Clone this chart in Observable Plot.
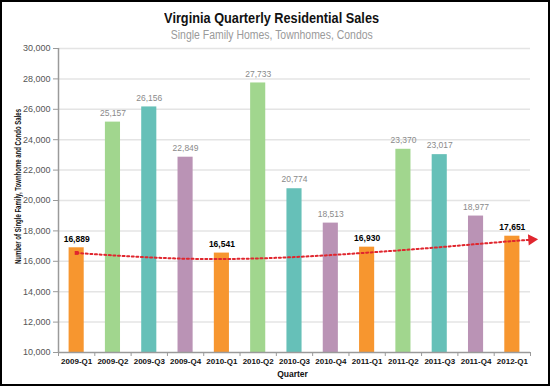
<!DOCTYPE html>
<html>
<head>
<meta charset="utf-8">
<script src="https://cdn.jsdelivr.net/npm/d3@7"></script>
<script src="https://cdn.jsdelivr.net/npm/@observablehq/plot@0.6"></script>
<style>
  html, body { margin: 0; padding: 0; background: #fff; }
  #frame { width: 550px; height: 386px; box-sizing: border-box; border: 2px solid #000; position: relative; overflow: hidden; }
  .hdr { position: absolute; left: 0; width: 540px; text-align: center; }
  .hdr span { display: inline-block; transform-origin: 50% 50%; white-space: nowrap; font-family: "Liberation Sans", Arial, sans-serif; }
  #title { top: 7px; }
  #title span { font-weight: bold; font-size: 15px; color: #111; line-height: 17px; }
  #subtitle { top: 23px; }
  #subtitle span { font-size: 12.5px; color: #9a9a9a; line-height: 15px; }
  #chart { position: absolute; left: 0; top: 40px; }
</style>
</head>
<body>
<div id="frame">
  <div id="title" class="hdr"><span data-w="215">Virginia Quarterly Residential Sales</span></div>
  <div id="subtitle" class="hdr"><span data-w="202">Single Family Homes, Townhomes, Condos</span></div>
  <div id="chart"></div>
</div>
<script>
const quarters = ["2009-Q1","2009-Q2","2009-Q3","2009-Q4","2010-Q1","2010-Q2","2010-Q3","2010-Q4","2011-Q1","2011-Q2","2011-Q3","2011-Q4","2012-Q1"];
const sales = [16889, 25157, 26156, 22849, 16541, 27733, 20774, 18513, 16930, 23370, 23017, 18977, 17651];
const trend = [16550, 16390, 16260, 16170, 16150, 16190, 16280, 16410, 16570, 16740, 16930, 17130, 17330];
const trendTip = {pos: 12.64, value: 17440};
const yTicks = [10000, 12000, 14000, 16000, 18000, 20000, 22000, 24000, 26000, 28000, 30000];
const quarterColors = {Q1: "#f7962f", Q2: "#a1d68e", Q3: "#66c0b8", Q4: "#ba93b5"};
const yLabel = "Number of Single Family, Townhome and Condo Sales";

const data = quarters.map((q, i) => ({i, quarter: q, q: q.slice(5), value: sales[i]}));
const trendData = trend.map((v, i) => ({pos: i, value: v})).concat([trendTip]);
const boundaries = d3.range(quarters.length + 1).map(i => i - 0.5);
const fmt = d3.format(",");
const font = "'Liberation Sans', Arial, sans-serif";

const chart = Plot.plot({
  width: 546,
  height: 344,
  marginTop: 6,
  marginBottom: 34,
  marginLeft: 56,
  marginRight: 18,
  style: {fontFamily: font, background: "transparent"},
  x: {domain: [-0.5, 12.5]},
  y: {domain: [10000, 30000]},
  color: {domain: Object.keys(quarterColors), range: Object.values(quarterColors)},
  marks: [
    Plot.ruleY(yTicks.slice(1), {stroke: "#e4e4e4", strokeWidth: 1.5}),
    Plot.rectY(data, {x1: d => d.i - 0.5, x2: d => d.i + 0.5, y1: 10000, y2: "value", fill: "q", insetLeft: 10.6, insetRight: 10.6}),
    Plot.line(trendData, {x: "pos", y: "value", stroke: "#e0262e", strokeWidth: 2, strokeDasharray: "2,2.6", curve: "catmull-rom"}),
    Plot.dot([trendData[0]], {x: "pos", y: "value", symbol: "square", r: 2.2, fill: "#e0262e"}),
    Plot.dot([trendTip], {x: "pos", y: "value", symbol: "triangle", r: 4.2, fill: "#e0262e", rotate: 86, dx: -4, dy: 0.3}),
    Plot.text(data.filter(d => d.q !== "Q1"), {x: "i", y: "value", text: d => fmt(d.value), dy: -9, fill: "#8a8a8a", fontSize: 8.5}),
    Plot.text(data.filter(d => d.q === "Q1"), {x: "i", y: "value", text: d => fmt(d.value), dy: -9, fill: "#000", fontSize: 8.5, fontWeight: "bold"}),
    Plot.ruleX([-0.5], {y1: 10000, y2: 30000, stroke: "#9a9a9a", strokeWidth: 1.5}),
    Plot.ruleY([10000], {stroke: "#9a9a9a", strokeWidth: 1.5}),
    Plot.axisY({ticks: yTicks, tickFormat: fmt, tickSize: 5, tickPadding: 3, fill: "#555", stroke: "#9a9a9a", fontSize: 9, label: null}),
    Plot.axisX({ticks: boundaries, tickFormat: () => "", tickSize: 4, stroke: "#9a9a9a", label: null}),
    Plot.text(data, {x: "i", text: "quarter", frameAnchor: "bottom", lineAnchor: "top", dy: 6, fontSize: 8, fontWeight: "bold", fill: "#111"}),
    Plot.text(["Quarter"], {frameAnchor: "bottom", lineAnchor: "top", dy: 18, fontSize: 8.5, fontWeight: "bold", fill: "#111", dx: -2}),
    Plot.text([yLabel], {frameAnchor: "left", textAnchor: "middle", rotate: -90, dx: -40, dy: -14, fontSize: 8.5, fontWeight: "bold", fill: "#111"})
  ]
});
document.getElementById("chart").appendChild(chart);

// condensed typefaces are not installed: compress texts to the reference widths
d3.select(chart).selectAll("text").filter(function() { return this.textContent === yLabel; })
  .attr("textLength", 155).attr("lengthAdjust", "spacingAndGlyphs");
document.querySelectorAll(".hdr span").forEach(el => {
  const w = el.getBoundingClientRect().width;
  el.style.transform = `scaleX(${(+el.dataset.w / w).toFixed(3)})`;
});
</script>
</body>
</html>
